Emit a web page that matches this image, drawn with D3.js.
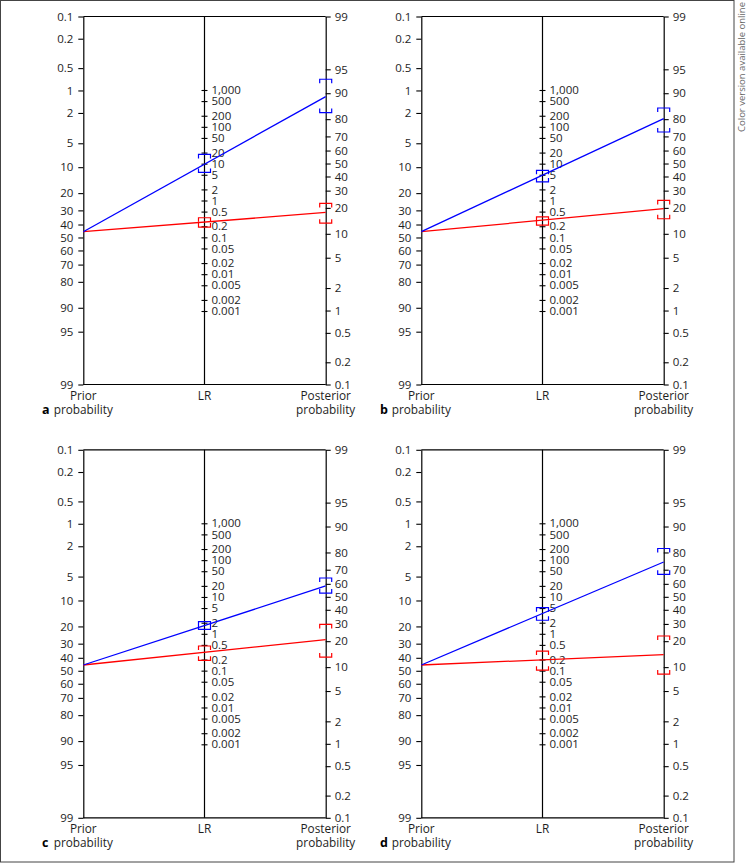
<!DOCTYPE html>
<html>
<head>
<meta charset="utf-8">
<script src="https://cdn.jsdelivr.net/npm/d3@7"></script>
<style>
  html, body { margin: 0; padding: 0; background: #fff; }
  svg { display: block; }
</style>
</head>
<body>
<div id="chart"></div>
<script>
// ---- data ----
const panelLetters = ["a", "b", "c", "d"];
const priorProb = [45.5, 45.5, 45.5, 45.5];              // % (same in all panels)
// positive result (blue)
const lrPositive    = [9.8, 4.85, 1.7, 3.46];
const lrPositiveCI  = [[5.8, 17.8], [3.2, 6.6], [1.32, 2.13], [2.33, 5.13]];
const postPositive  = [89.0, 80.3, 58.4, 74.8];           // %
const postPositiveCI = [[83.1, 93.3], [72.8, 85.0], [52.9, 64.3], [66.9, 81.9]];
// negative result (red)
const lrNegative    = [0.22, 0.31, 0.306, 0.19];
const lrNegativeCI  = [[0.19, 0.34], [0.215, 0.36], [0.19, 0.466], [0.103, 0.34]];
const postNegative  = [17.8, 19.6, 20.8, 14.1];
const postNegativeCI = [[13.4, 22.3], [15.1, 24.0], [13.2, 29.7], [8.2, 22.7]];

// tick values and labels
const probTicks = [0.1, 0.2, 0.5, 1, 2, 5, 10, 20, 30, 40, 50, 60, 70, 80, 90, 95, 99];
const probTickLabels = ["0.1", "0.2", "0.5", "1", "2", "5", "10", "20", "30", "40", "50", "60", "70", "80", "90", "95", "99"];
const lrTicks = [1000, 500, 200, 100, 50, 20, 10, 5, 2, 1, 0.5, 0.2, 0.1, 0.05, 0.02, 0.01, 0.005, 0.002, 0.001];
const lrTickLabels = ["1,000", "500", "200", "100", "50", "20", "10", "5", "2", "1", "0.5", "0.2", "0.1", "0.05", "0.02", "0.01", "0.005", "0.002", "0.001"];

const seriesColors = { pos: "#0000ff", neg: "#ff0000" };

// ---- layout ----
const W = 746, H = 863;
const FONT = "'Open Sans', 'Noto Sans', sans-serif";
const TXT = "#1e1e1e";
const panelOffX = [0, 338, 0, 338];
const panelOffY = [0, 0, 433.3, 433.3];
const xL = 83.3, xM = 204.5, xR = 325.7;
const y0 = 16.5, y1 = 384.5;

const logit = p => Math.log10(p / (100 - p));

const svg = d3.select("#chart").append("svg")
  .attr("width", W).attr("height", H)
  .attr("viewBox", `0 0 ${W} ${H}`);

// frame
svg.append("rect")
  .attr("x", 0.5).attr("y", 0.5)
  .attr("width", 734 - 0.5).attr("height", 862 - 0.5)
  .attr("fill", "none").attr("stroke", "#444").attr("stroke-width", 1);

svg.append("text")
  .attr("transform", "translate(744.5,2) rotate(-90)")
  .attr("text-anchor", "end")
  .attr("font-family", FONT).attr("font-size", 9.5)
  .attr("fill", "#666")
  .text("Color version available online");

const yLeft = d3.scaleLinear().domain([logit(0.1), logit(99)]).range([y0, y1]);
const yRight = d3.scaleLinear().domain([logit(99), logit(0.1)]).range([y0, y1]);
const k = (y1 - y0) / (logit(99) - logit(0.1));
const yMidOne = (y0 + y1) / 2;
const yMid = d3.scaleLog().domain([1, 1000]).range([yMidOne, yMidOne - 3 * k / 2]);

function styleAxis(g) {
  g.attr("font-family", FONT).attr("font-size", 11.5);
  g.selectAll("text").attr("fill", TXT);
  g.selectAll("line").attr("stroke", "#000").attr("stroke-width", 1.1);
  g.selectAll(".domain").attr("stroke", "#000").attr("stroke-width", 1.2);
}

function bracket(g, x, yTop, yBot, color) {
  const hw = 6, t = 4;
  g.append("path")
    .attr("d", `M${x - hw},${yTop + t}V${yTop}H${x + hw}V${yTop + t}` +
               `M${x - hw},${yBot - t}V${yBot}H${x + hw}V${yBot - t}`)
    .attr("fill", "none").attr("stroke", color).attr("stroke-width", 1.2);
}

panelLetters.forEach((letter, i) => {
  const g = svg.append("g").attr("transform", `translate(${panelOffX[i]},${panelOffY[i]})`);

  // top and bottom frame lines
  [y0, y1].forEach(y => {
    g.append("line").attr("x1", xL).attr("x2", xR).attr("y1", y).attr("y2", y)
      .attr("stroke", "#000").attr("stroke-width", 1.2);
  });

  // left axis (prior)
  const gl = g.append("g").attr("transform", `translate(${xL},0)`)
    .call(d3.axisLeft(yLeft)
      .tickValues(probTicks.map(logit))
      .tickFormat((d, j) => probTickLabels[j])
      .tickSize(5).tickSizeOuter(0).tickPadding(5));
  styleAxis(gl);

  // right axis (posterior)
  const gr = g.append("g").attr("transform", `translate(${xR},0)`)
    .call(d3.axisRight(yRight)
      .tickValues(probTicks.map(logit))
      .tickFormat((d, j) => probTickLabels[j])
      .tickSize(5).tickSizeOuter(0).tickPadding(4));
  styleAxis(gr);

  // middle LR axis
  g.append("line").attr("x1", xM).attr("x2", xM).attr("y1", y0).attr("y2", y1)
    .attr("stroke", "#000").attr("stroke-width", 1.2);
  const gm = g.append("g").attr("transform", `translate(${xM},0)`)
    .call(d3.axisRight(yMid)
      .tickValues(lrTicks)
      .tickFormat((d, j) => lrTickLabels[j])
      .tickSize(3).tickSizeOuter(0).tickPadding(4));
  gm.select(".domain").remove();
  gm.selectAll(".tick line").attr("x1", -3);
  styleAxis(gm);

  // nomogram lines
  const lines = [
    { post: postNegative[i], color: seriesColors.neg },
    { post: postPositive[i], color: seriesColors.pos }
  ];
  lines.forEach(l => {
    g.append("line")
      .attr("x1", xL).attr("y1", yLeft(logit(priorProb[i])))
      .attr("x2", xR).attr("y2", yRight(logit(l.post)))
      .attr("stroke", l.color).attr("stroke-width", 1.3);
  });

  // CI brackets
  bracket(g, xM, yMid(lrPositiveCI[i][1]), yMid(lrPositiveCI[i][0]), seriesColors.pos);
  bracket(g, xM, yMid(lrNegativeCI[i][1]), yMid(lrNegativeCI[i][0]), seriesColors.neg);
  bracket(g, xR, yRight(logit(postPositiveCI[i][1])), yRight(logit(postPositiveCI[i][0])), seriesColors.pos);
  bracket(g, xR, yRight(logit(postNegativeCI[i][1])), yRight(logit(postNegativeCI[i][0])), seriesColors.neg);

  // axis titles
  const title = (x, y, s) => g.append("text").attr("x", x).attr("y", y)
    .attr("text-anchor", "middle").attr("font-family", FONT).attr("font-size", 11.8)
    .attr("fill", TXT).text(s);
  title(xL, 400, "Prior");
  title(xL, 414, "probability");
  title(xM, 400, "LR");
  title(xR, 400, "Posterior");
  title(xR, 414, "probability");

  g.append("text").attr("x", 42).attr("y", 414)
    .attr("font-family", FONT).attr("font-size", 12.5).attr("font-weight", "bold")
    .attr("fill", "#000").text(letter);
});
</script>
</body>
</html>
